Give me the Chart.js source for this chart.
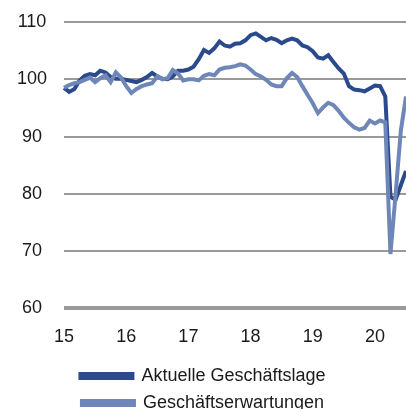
<!DOCTYPE html>
<html>
<head>
<meta charset="utf-8">
<script src="https://cdn.jsdelivr.net/npm/chart.js@4/dist/chart.umd.min.js"></script>
<style>
  html, body { margin: 0; padding: 0; background: #fff; overflow: hidden; }
  #wrap { width: 406px; height: 422px; }
</style>
</head>
<body>
<div id="wrap"><canvas id="chart" width="406" height="422"></canvas></div>
<script>
// --- Data (monthly, Jan 2015 - Jul 2020) ---
const years = ['15', '16', '17', '18', '19', '20'];
const monthsInLastYear = 7;

const lageValues = [
  98.5, 97.8, 98.3, 99.8, 100.6, 100.9, 100.7, 101.5, 101.2, 100.4, 100.1, 100.1,
  99.9, 99.7, 99.5, 99.9, 100.4, 101.1, 100.5, 100.1, 100.0, 100.5, 101.5, 101.5,
  101.7, 102.2, 103.5, 105.1, 104.6, 105.4, 106.6, 105.9, 105.7, 106.2, 106.3, 106.8,
  107.7, 108.0, 107.4, 106.8, 107.2, 106.9, 106.3, 106.8, 107.1, 106.8, 105.9, 105.6,
  104.9, 103.8, 103.6, 104.2, 103.0, 101.9, 101.0, 98.8, 98.2, 98.1, 97.9, 98.4,
  98.9, 98.8, 97.0, 79.5, 79.0, 81.5, 84.0
];

const erwartungValues = [
  98.5, 99.0, 99.3, 99.5, 99.9, 100.3, 99.5, 100.2, 100.7, 99.5, 101.2, 100.3,
  98.8, 97.6, 98.3, 98.8, 99.1, 99.3, 100.5, 100.0, 100.2, 101.6, 101.0, 99.8,
  100.0, 100.0, 99.8, 100.6, 100.9, 100.7, 101.7, 102.0, 102.1, 102.3, 102.6, 102.4,
  101.7, 100.9, 100.5, 99.9, 99.1, 98.8, 98.8, 100.2, 101.1, 100.4, 98.8, 97.3,
  95.8, 94.1, 95.1, 95.9, 95.5, 94.5, 93.3, 92.4, 91.6, 91.2, 91.5, 92.8,
  92.3, 92.8, 92.5, 69.5, 80.0, 91.0, 97.0
];

const seriesNames = ['Aktuelle Geschäftslage', 'Geschäftserwartungen'];
const yTicks = [60, 70, 80, 90, 100, 110];

// --- Categories: one per month, year label shown on January ---
const categories = [];
years.forEach((y, yi) => {
  const n = yi === years.length - 1 ? monthsInLastYear : 12;
  for (let m = 1; m <= n; m++) {
    categories.push(y + '-' + String(m).padStart(2, '0'));
  }
});

const darkBlue = '#2a4a8c';
const lightBlue = '#6f86b8';
const gridGray = '#9a9a9a';
const font = { family: '"Liberation Sans", Arial, sans-serif', size: 18 };

new Chart(document.getElementById('chart'), {
  type: 'line',
  data: {
    labels: categories,
    datasets: [
      {
        label: seriesNames[0],
        data: lageValues,
        borderColor: darkBlue,
        backgroundColor: darkBlue,
        borderWidth: 4,
        pointRadius: 0,
        tension: 0,
        order: 1
      },
      {
        label: seriesNames[1],
        data: erwartungValues,
        borderColor: lightBlue,
        backgroundColor: lightBlue,
        borderWidth: 4,
        pointRadius: 0,
        tension: 0,
        order: 0
      }
    ]
  },
  options: {
    responsive: false,
    animation: false,
    layout: { padding: { top: 22, left: 0, right: 0, bottom: 0 } },
    scales: {
      x: {
        grid: { display: false },
        border: { display: false },
        // let the lines run to the right edge of the canvas
        afterFit: (axis) => {
          axis.paddingRight = 0;
        },
        ticks: {
          autoSkip: false,
          maxRotation: 0,
          padding: 10,
          color: '#1a1a1a',
          font: font,
          callback: (val, idx) => {
            const c = categories[idx];
            return c.endsWith('-01') ? c.slice(0, 2) : '';
          }
        }
      },
      y: {
        min: yTicks[0],
        max: yTicks[yTicks.length - 1],
        border: { display: false },
        afterBuildTicks: (axis) => { axis.ticks = yTicks.map(v => ({ value: v })); },
        afterFit: (axis) => {
          axis.paddingTop = 0;
          axis.paddingBottom = 0;
        },
        grid: {
          color: gridGray,
          drawTicks: false,
          lineWidth: (ctx) => (ctx.tick && ctx.tick.value === 60 ? 4 : 2)
        },
        ticks: {
          crossAlign: 'center',
          padding: 17,
          color: '#1a1a1a',
          font: font
        }
      }
    },
    plugins: {
      tooltip: { enabled: false },
      legend: {
        position: 'bottom',
        labels: {
          boxWidth: 52,
          boxHeight: 4,
          padding: 9,
          color: '#1a1a1a',
          font: font,
          sort: (a, b) => a.datasetIndex - b.datasetIndex
        }
      }
    }
  }
});
</script>
</body>
</html>
